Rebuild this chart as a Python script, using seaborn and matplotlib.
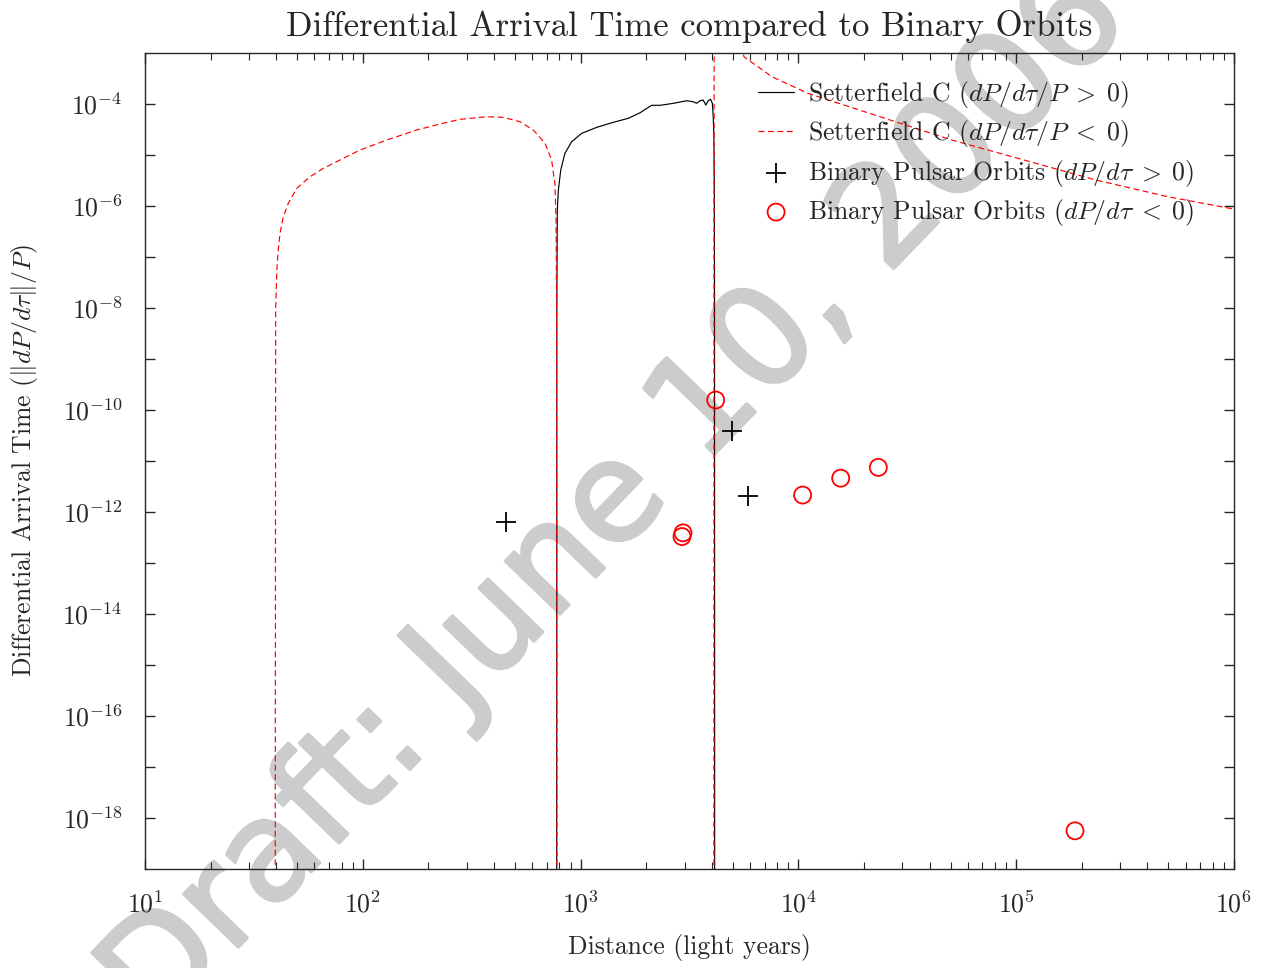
import numpy as np
import pandas as pd
import matplotlib
matplotlib.use('Agg')
import matplotlib.pyplot as plt
import matplotlib.patheffects as pe
import seaborn as sns
from matplotlib.ticker import FixedLocator, LogLocator, NullFormatter, NullLocator

# Setterfield C, dP/dtau/P > 0  (log10 distance [ly], log10 value)
pos_logd = [2.890, 2.891, 2.893, 2.898, 2.909, 2.928, 2.959, 3.005, 3.074, 3.150,
            3.219, 3.273, 3.326, 3.365, 3.426, 3.487, 3.517, 3.533, 3.548, 3.563,
            3.575, 3.586, 3.597, 3.605, 3.609, 3.612, 3.614, 3.615, 3.616]
pos_logv = [-25.0, -8.0, -6.078, -5.686, -5.294, -4.967, -4.739, -4.575, -4.457, -4.359,
            -4.280, -4.171, -4.025, -4.025, -3.986, -3.935, -3.955, -3.986, -3.935, -3.922,
            -4.020, -3.935, -3.908, -3.986, -4.249, -4.641, -5.555, -8.0, -25.0]

# Setterfield C, dP/dtau/P < 0, first branch (short distances)
neg1_logd = [1.597, 1.600, 1.606, 1.612, 1.620, 1.635, 1.658, 1.697, 1.758, 1.819,
             1.895, 1.987, 2.110, 2.247, 2.354, 2.446, 2.569, 2.645, 2.722, 2.783,
             2.837, 2.867, 2.882, 2.887, 2.890, 2.892]
neg1_logv = [-25.0, -8.0, -7.2, -6.86, -6.535, -6.21, -5.947, -5.653, -5.425, -5.261,
             -5.098, -4.902, -4.706, -4.510, -4.392, -4.300, -4.249, -4.261, -4.347, -4.510,
             -4.771, -5.098, -5.555, -6.21, -8.0, -25.0]

# Setterfield C, dP/dtau/P < 0, second branch (beyond ~4000 ly)
neg2_logd = [3.612, 3.6125, 3.613, 3.614, 3.750, 3.879, 4.044, 4.375, 4.705, 5.036,
             5.366, 5.697, 6.0]
neg2_logv = [-25.0, -10.0, -3.0, 0.0, -3.073, -3.465, -3.790, -4.249, -4.706, -5.098,
             -5.490, -5.818, -6.06]

# Binary pulsar orbits
plus_dist = [454.6, 4973, 5870]
plus_val = [6.3e-13, 3.9e-11, 2.1e-12]
circ_dist = [4172, 2953, 2922, 10460, 15640, 23280, 186200]
circ_val = [1.57e-10, 3.9e-13, 3.3e-13, 2.15e-12, 4.6e-12, 7.5e-12, 5.6e-19]

pos_df = pd.DataFrame({'d': 10.0 ** np.array(pos_logd), 'v': 10.0 ** np.array(pos_logv)})
neg_df = pd.concat([
    pd.DataFrame({'d': 10.0 ** np.array(neg1_logd), 'v': 10.0 ** np.array(neg1_logv), 'branch': 1}),
    pd.DataFrame({'d': 10.0 ** np.array(neg2_logd), 'v': 10.0 ** np.array(neg2_logv), 'branch': 2}),
])

sns.set_style('ticks')
plt.rcParams['font.family'] = 'serif'
plt.rcParams['font.serif'] = ['cmr10']
plt.rcParams['mathtext.fontset'] = 'cm'
plt.rcParams['axes.formatter.use_mathtext'] = True
plt.rcParams['axes.linewidth'] = 1.0

fig = plt.figure(figsize=(12.65, 9.68), dpi=100)
ax = fig.add_axes([0.1146, 0.1023, 0.8609, 0.8429])
ax.patch.set_alpha(0)

# draft watermark behind everything
fig.text(0.487, 0.483, 'Draft: June 10, 2006', fontsize=100, color='#cccccc',
         rotation=46, ha='center', va='center', family='DejaVu Sans', zorder=-5,
         path_effects=[pe.withStroke(linewidth=2.5, foreground='#cccccc')])

ax.set_xscale('log')
ax.set_yscale('log')

sns.lineplot(data=pos_df, x='d', y='v', estimator=None, sort=False, color='black',
             lw=0.85, label=r'Setterfield C ($dP/d\tau/P \;>\; 0$)', ax=ax)
sns.lineplot(data=neg_df, x='d', y='v', units='branch', estimator=None, sort=False,
             color='red', lw=0.85, linestyle=(0, (5, 3)),
             label=r'Setterfield C ($dP/d\tau/P \;<\; 0$)', ax=ax)
sns.scatterplot(x=plus_dist, y=plus_val, marker='+', s=190, color='black', linewidth=1.3,
                label=r'Binary Pulsar Orbits ($dP/d\tau \;>\; 0$)', ax=ax)
sns.scatterplot(x=circ_dist, y=circ_val, marker='o', s=150, facecolor='none', edgecolor='red',
                linewidth=1.3, label=r'Binary Pulsar Orbits ($dP/d\tau \;<\; 0$)', ax=ax)

ax.set_xlim(10, 1e6)
ax.set_ylim(1e-19, 1e-3)

xt = [10.0 ** k for k in range(1, 7)]
ax.xaxis.set_major_locator(FixedLocator(xt))
ax.set_xticklabels([rf'$10^{{{k}}}$' for k in range(1, 7)])
ax.xaxis.set_minor_locator(LogLocator(base=10, subs=np.arange(2, 10), numticks=30))
ax.xaxis.set_minor_formatter(NullFormatter())

yexp = list(range(-18, -3))
ax.yaxis.set_major_locator(FixedLocator([10.0 ** k for k in yexp]))
ax.set_yticklabels([rf'$10^{{{k}}}$' if k % 2 == 0 else '' for k in yexp])
ax.yaxis.set_minor_locator(NullLocator())

ax.tick_params(which='both', direction='in', top=True, right=True, labelsize=18.5)
ax.tick_params(which='major', length=7, width=1.0)
ax.tick_params(which='minor', length=5, width=0.8)
ax.tick_params(axis='x', pad=16)
ax.tick_params(axis='y', pad=16)

ax.set_title('Differential Arrival Time compared to Binary Orbits', fontsize=25, pad=12)
ax.set_xlabel('Distance (light years)', fontsize=18.5, labelpad=12)
ax.set_ylabel(r'Differential Arrival Time ($\|dP/d\tau\|/P$)', fontsize=18.5, labelpad=16)

h, l = ax.get_legend_handles_labels()
uniq = dict(zip(l, h))
ax.legend(list(uniq.values()), list(uniq.keys()), loc='upper left',
          bbox_to_anchor=(0.563, 0.968), frameon=False, fontsize=18.5,
          handlelength=1.4, handletextpad=0.55, labelspacing=0.32,
          borderpad=0, borderaxespad=0, scatterpoints=1)

fig.savefig('out.png', dpi=100)
